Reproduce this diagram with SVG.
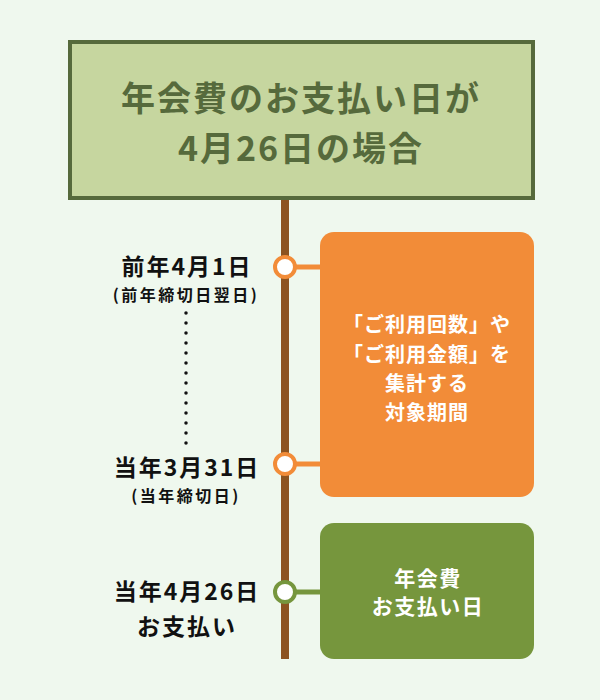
<svg xmlns="http://www.w3.org/2000/svg" width="600" height="700" viewBox="0 0 600 700">
<style>
text{font-family:"Noto Sans CJK JP","Noto Sans",sans-serif;font-weight:bold;text-anchor:middle;dominant-baseline:central}
.title{fill:#566a3c;font-size:34px;letter-spacing:2px}
.lbl{fill:#111111;font-size:23px;letter-spacing:2px}
.sub{fill:#111111;font-size:16px;letter-spacing:2.5px}
.w{fill:#ffffff;font-size:20px;letter-spacing:1px}
.g{fill:#ffffff;font-size:21px;letter-spacing:1.5px}
</style>
<rect width="600" height="700" fill="#eff8ee"/>
<g id="connectors">
<rect x="281" y="198" width="8" height="461" fill="#8c5320"/>
<line x1="295" y1="267" x2="322" y2="267" stroke="#f28c38" stroke-width="5"/>
<line x1="295" y1="464" x2="322" y2="464" stroke="#f28c38" stroke-width="5"/>
<line x1="295" y1="592" x2="322" y2="592" stroke="#76963d" stroke-width="5"/>
<line x1="186" y1="313" x2="186" y2="446" stroke="#111111" stroke-width="3.5" stroke-linecap="round" stroke-dasharray="0 10"/>
</g>
<g id="title">
<rect x="70" y="42" width="463" height="156" fill="#c6d69f" stroke="#566a3c" stroke-width="4"/>
<text class="title" x="301" y="96">年会費のお支払い日が</text>
<text class="title" x="301" y="146">4月26日の場合</text>
</g>
<g id="period">
<rect x="320" y="232" width="214" height="265" rx="14" fill="#f28c38"/>
<text class="w" x="427" y="323">「ご利用回数」や</text>
<text class="w" x="427" y="353">「ご利用金額」を</text>
<text class="w" x="427" y="382">集計する</text>
<text class="w" x="427" y="411">対象期間</text>
</g>
<g id="payday">
<rect x="320" y="523" width="214" height="136" rx="14" fill="#76963d"/>
<text class="g" x="428" y="577">年会費</text>
<text class="g" x="428" y="605">お支払い日</text>
</g>
<g id="start">
<circle cx="285" cy="267" r="10" fill="#ffffff" stroke="#f28c38" stroke-width="4"/>
<text class="lbl" x="187" y="265">前年4月1日</text>
<text class="sub" x="186" y="294">(前年締切日翌日)</text>
</g>
<g id="end">
<circle cx="285" cy="464" r="10" fill="#ffffff" stroke="#f28c38" stroke-width="4"/>
<text class="lbl" x="187" y="466">当年3月31日</text>
<text class="sub" x="186" y="495">(当年締切日)</text>
</g>
<g id="pay">
<circle cx="285" cy="592" r="10" fill="#ffffff" stroke="#76963d" stroke-width="4"/>
<text class="lbl" x="187" y="590">当年4月26日</text>
<text class="lbl" x="187" y="625">お支払い</text>
</g>
</svg>
